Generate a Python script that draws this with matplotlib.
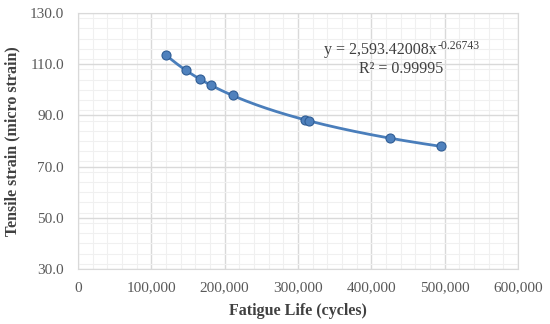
import numpy as np
import matplotlib
matplotlib.use("Agg")
import matplotlib.pyplot as plt
from matplotlib.ticker import MultipleLocator, FuncFormatter

cycles = [120000, 147300, 166400, 181400, 211000, 309500, 315500, 425500, 495000]
strain = [113.6, 107.6, 104.1, 101.8, 97.8, 88.3, 87.8, 81.1, 77.9]

x_ticks = [0, 100000, 200000, 300000, 400000, 500000, 600000]
y_ticks = [30.0, 50.0, 70.0, 90.0, 110.0, 130.0]

eq_main = "y = 2,593.42008x"
eq_exp = "-0.26743"
eq_r2 = "R² = 0.99995"

plt.rcParams['font.family'] = ['Liberation Serif', 'DejaVu Serif']

fig = plt.figure(figsize=(5.5, 3.24), dpi=100)
ax = fig.add_axes([78/550, 1-269/324, 440/550, 256/324])

# power trendline fitted to the points
b, lna = np.polyfit(np.log(cycles), np.log(strain), 1)
a = np.exp(lna)
xf = np.linspace(min(cycles), max(cycles), 200)
ax.plot(xf, a * xf**b, color='#4a7ebb', lw=2.0, zorder=3)
ax.plot(cycles, strain, 'o', ms=6.5, color='#4f81bd', mec='#2f5d95', mew=0.8, zorder=4)

ax.set_xlim(0, 600000)
ax.set_ylim(30, 130)
ax.set_xticks(x_ticks)
ax.set_yticks(y_ticks)
ax.xaxis.set_minor_locator(MultipleLocator(20000))
ax.yaxis.set_minor_locator(MultipleLocator(4))
ax.xaxis.set_major_formatter(FuncFormatter(lambda v, p: f"{int(v):,}"))
ax.yaxis.set_major_formatter(FuncFormatter(lambda v, p: f"{v:.1f}"))
ax.grid(which='major', color='#d9d9d9', lw=1.0)
ax.grid(which='minor', color='#f0f0f0', lw=0.8)
ax.set_axisbelow(True)
for s in ax.spines.values():
    s.set_color('#d9d9d9')
ax.tick_params(which='both', length=0, labelsize=11, colors='#595959')
ax.tick_params(axis='y', pad=10)
ax.tick_params(axis='x', pad=9)

fig.text(298/550, 1-311/324, 'Fatigue Life (cycles)', ha='center', va='center',
         fontsize=11.5, fontweight='bold', color='#404040')
fig.text(12/550, 1-141/324, 'Tensile strain (micro strain)', ha='center', va='center',
         rotation=90, fontsize=11.5, fontweight='bold', color='#404040')

# trendline label
fig.canvas.draw()
r = fig.canvas.get_renderer()
main = fig.text(324/550, 1-50/324, eq_main, ha='left', va='center',
                fontsize=11.5, color='#404040')
bb = main.get_window_extent(renderer=r)
fig.text((bb.x1 + 0.5)/550, 1-46/324, eq_exp, ha='left', va='center',
         fontsize=8.5, color='#404040')
fig.text(401/550, 1-69/324, eq_r2, ha='center', va='center',
         fontsize=11.5, color='#404040')

fig.savefig('out.png', dpi=100)
